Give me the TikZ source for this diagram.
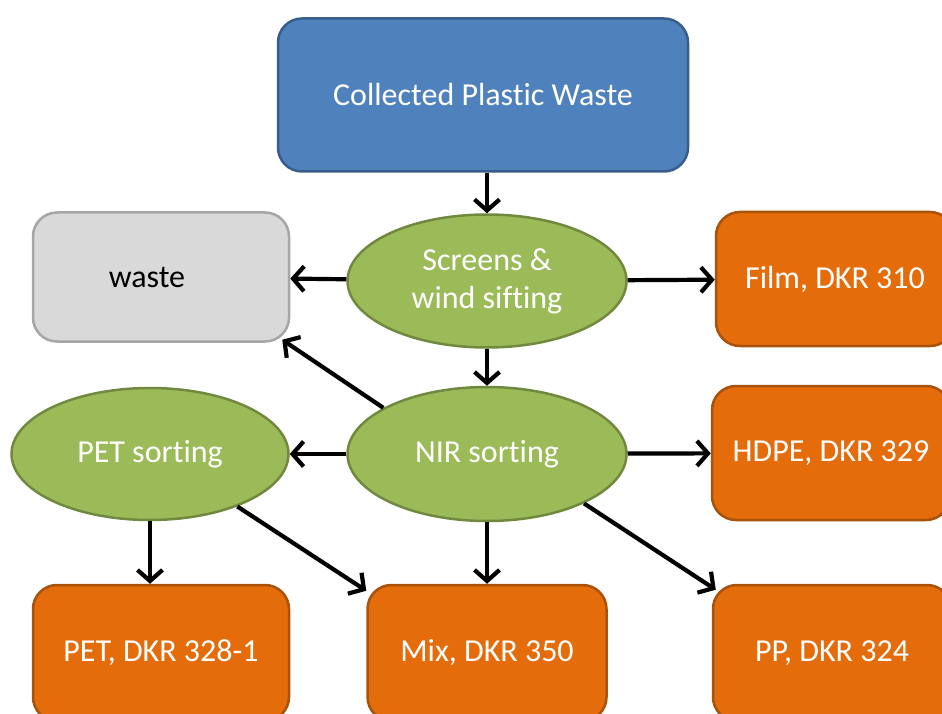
\documentclass[tikz,border=0pt]{standalone}
\usepackage{fontspec}
\setmainfont{Carlito}[Ligatures=NoCommon]
\usetikzlibrary{arrows.meta,shapes.geometric}

\definecolor{blueFill}{HTML}{4F81BD}
\definecolor{blueLine}{HTML}{385D8A}
\definecolor{greyFill}{HTML}{D9D9D9}
\definecolor{greyLine}{HTML}{A6A6A6}
\definecolor{greenFill}{HTML}{9BBB59}
\definecolor{greenLine}{HTML}{71893F}
\definecolor{orangeFill}{HTML}{E46C0A}
\definecolor{orangeLine}{HTML}{A8520C}

\begin{document}
\begin{tikzpicture}[x=1pt,y=-1pt,
    box/.style={rectangle,rounded corners=24pt,line width=2.5pt,inner sep=0pt,
        align=center,text=white,font=\fontsize{32}{38}\selectfont},
    prodbox/.style={box,fill=orangeFill,draw=orangeLine,minimum width=238pt,minimum height=134pt},
    stage/.style={ellipse,line width=2.5pt,inner sep=0pt,fill=greenFill,draw=greenLine,
        align=center,text=white,font=\fontsize{32}{38}\selectfont},
    flow/.style={line width=4.2pt,-{Straight Barb[length=11pt,width=25pt]}}]
    % 画布
    \useasboundingbox (0,0) rectangle (942,714);
    \clip (0,0) rectangle (942,714);

    % 节点
    \node[box,fill=blueFill,draw=blueLine,minimum width=410pt,minimum height=153pt] (collected) at (483,95) {Collected Plastic Waste};
    \node[box,fill=greyFill,draw=greyLine,text=black,minimum width=256pt,minimum height=129pt] (waste) at (161,277) {waste\hspace*{28pt}};
    \node[stage,minimum width=279pt,minimum height=133pt] (screens) at (487,281) {Screens \&\\wind sifting};
    \node[prodbox] (film) at (835,279) {Film, DKR 310};
    \node[stage,minimum width=279pt,minimum height=134pt] (nir) at (487,454) {NIR sorting};
    \node[prodbox] (hdpe) at (831,453) {HDPE, DKR 329};
    \node[stage,minimum width=277pt,minimum height=132pt] (petsort) at (150,454) {PET sorting};
    \node[prodbox,minimum width=256pt,minimum height=136pt] (pet) at (161,653) {PET, DKR 328-1};
    \node[prodbox,minimum width=239pt,minimum height=136pt] (mix) at (487,653) {Mix, DKR 350};
    \node[prodbox,minimum height=136pt] (pp) at (832,653) {PP, DKR 324};

    % 箭头
    \draw[flow] (screens.north |- collected.south) -- (screens.north);
    \draw[flow] (screens) -- (waste);
    \draw[flow] (screens) -- (film);
    \draw[flow] (screens) -- (nir);
    \draw[flow] (nir.156) -- ([shift={(-8,-3)}]waste.south east);
    \draw[flow] (nir) -- (petsort);
    \draw[flow] (nir) -- (hdpe);
    \draw[flow] (nir) -- (mix);
    \draw[flow] (nir.-27) -- ([shift={(4,6)}]pp.north west);
    \draw[flow] (petsort.south) -- (petsort.south |- pet.north);
    \draw[flow] (petsort.-31) -- ([shift={(0,7)}]mix.north west);
\end{tikzpicture}
\end{document}
